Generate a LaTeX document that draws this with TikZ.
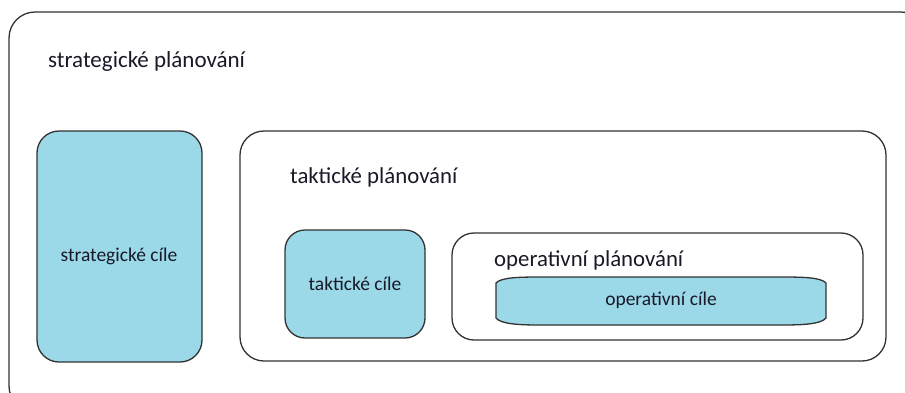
\documentclass[tikz,border=0pt]{standalone}
\usepackage{fontspec}
\setmainfont{Carlito}
\definecolor{boxfill}{RGB}{155,217,233}
\definecolor{edge}{RGB}{50,50,50}
\definecolor{txt}{RGB}{25,25,40}
\begin{document}
\begin{tikzpicture}[x=1pt,y=-1pt,
  frame/.style={draw=edge,line width=1.3pt,rounded corners=#1,inner sep=0pt,fill=white},
  goal/.style={draw=edge,line width=1.3pt,rounded corners=#1,inner sep=0pt,fill=boxfill},
  bigtxt/.style={font=\fontsize{22.8}{24}\selectfont,text=txt,inner sep=0pt,anchor=base west},
  smalltxt/.style={font=\fontsize{19.5}{21}\selectfont,text=txt,inner sep=0pt}]
\useasboundingbox (0,0) rectangle (905,392);
\clip (0,0) rectangle (905,392);
\fill[white] (0,0) rectangle (905,392);
% outer frame
\node[frame=26pt,minimum width=918pt,minimum height=400pt] (outer) at (468,212) {};
\node[bigtxt,font=\fontsize{23}{24}\selectfont] (strPlan) at (48,67) {strategické plánování};
% strategic goals
\node[goal=22pt,minimum width=165pt,minimum height=231pt] (strGoal) at (119.5,246.5) {};
\node[smalltxt] (strGoalT) at (119,256) {strategické cíle};
% tactical planning
\node[frame=24pt,minimum width=646pt,minimum height=230pt] (takPlan) at (563,246) {};
\node[bigtxt] (takPlanT) at (290,183) {taktické plánování};
% tactical goals
\node[goal=20pt,minimum width=140pt,minimum height=108pt] (takGoal) at (355,284) {};
\node[smalltxt] (takGoalT) at (355,284) {taktické cíle};
% operational planning
\node[frame=22pt,minimum width=411pt,minimum height=107pt] (opPlan) at (657.5,286.5) {};
\node[bigtxt] (opPlanT) at (494,266) {operativní plánování};
% operational goals (barrel shape)
\draw[draw=edge,line width=1.3pt,fill=boxfill]
  (496,283) .. controls (501,277.5) and (518,277) .. (540,277) -- (782,277)
  .. controls (804,277) and (821,277.5) .. (826,283)
  -- (826,318) .. controls (821,324) and (804,325) .. (782,325) -- (540,325)
  .. controls (518,325) and (501,324) .. (496,318) -- cycle;
\node[smalltxt] (opGoal) at (661,300) {operativní cíle};
\end{tikzpicture}
\end{document}
